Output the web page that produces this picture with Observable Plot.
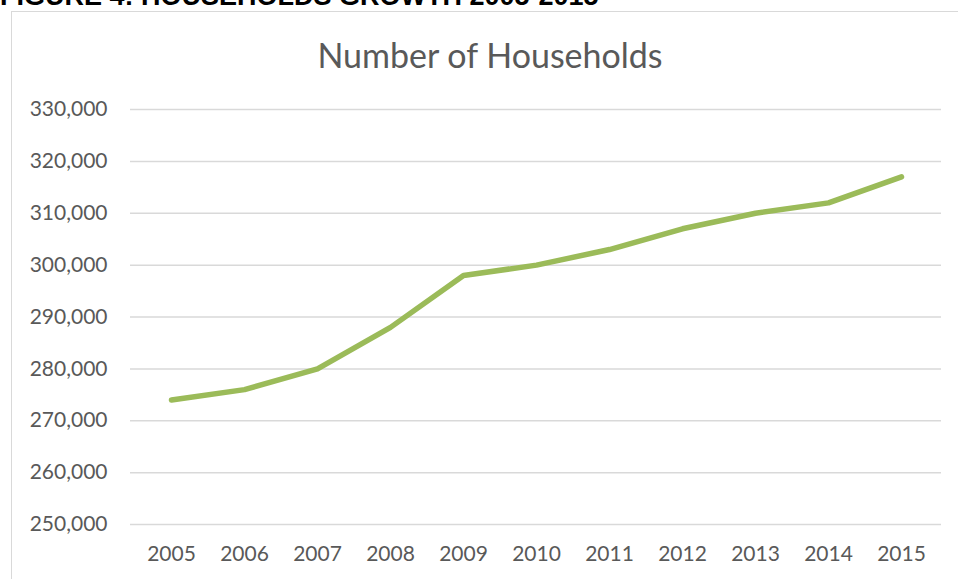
<!DOCTYPE html>
<html>
<head>
<meta charset="utf-8">
<script src="https://cdn.jsdelivr.net/npm/d3@7"></script>
<script src="https://cdn.jsdelivr.net/npm/@observablehq/plot@0.6"></script>
<style>
  html, body { margin: 0; padding: 0; background: #fff; overflow: hidden; }
  #wrap { position: relative; width: 958px; height: 579px; }
  #figtitle { position: absolute; left: 0px; top: -17px; font: bold 27px "Liberation Sans", Arial, sans-serif; line-height: 27px; color: #000; white-space: nowrap; }
  #box { position: absolute; left: 11px; top: 11px; width: 960px; height: 600px; border: 1.5px solid #d9d9d9; box-sizing: border-box; }
  #ctitle { position: absolute; left: 0; width: 980px; top: 34px; text-align: center; font: 34px Lato, "Open Sans", sans-serif; color: #595959; }
  #chart { position: absolute; left: 0; top: 0; }
</style>
</head>
<body>
<div id="wrap">
  <div id="figtitle">FIGURE 4: HOUSEHOLDS GROWTH 2005-2015</div>
  <div id="box"></div>
  <div id="ctitle">Number of Households</div>
  <div id="chart"></div>
</div>
<script>
const years = ["2005","2006","2007","2008","2009","2010","2011","2012","2013","2014","2015"];
const households = [274000, 276000, 280000, 288000, 298000, 300000, 303000, 307000, 310000, 312000, 317000];
const yTicks = [250000, 260000, 270000, 280000, 290000, 300000, 310000, 320000, 330000];

const data = years.map((y, i) => ({year: y, value: households[i]}));

const chart = Plot.plot({
  width: 958,
  height: 579,
  marginTop: 109,
  marginBottom: 55,
  marginLeft: 130,
  marginRight: 17,
  style: { fontFamily: "Lato, 'Open Sans', sans-serif", fontSize: "21px", color: "#595959", background: "transparent", overflow: "visible" },
  x: { type: "point", domain: years, padding: 0.5, label: null },
  y: { domain: [250000, 330000], label: null },
  marks: [
    Plot.ruleY(yTicks, { stroke: "#d9d9d9", strokeWidth: 1.5 }),
    Plot.axisX({ domain: years, tickSize: 0, tickPadding: 22, label: null, fill: "#595959" }),
    Plot.axisY({ ticks: yTicks, tickFormat: d3.format(","), tickSize: 0, tickPadding: 23, label: null, fill: "#595959" }),
    Plot.line(data, { x: "year", y: "value", stroke: "#9bbb59", strokeWidth: 5.5, strokeLinecap: "round", strokeLinejoin: "round" })
  ]
});
document.getElementById("chart").appendChild(chart);
</script>
</body>
</html>
